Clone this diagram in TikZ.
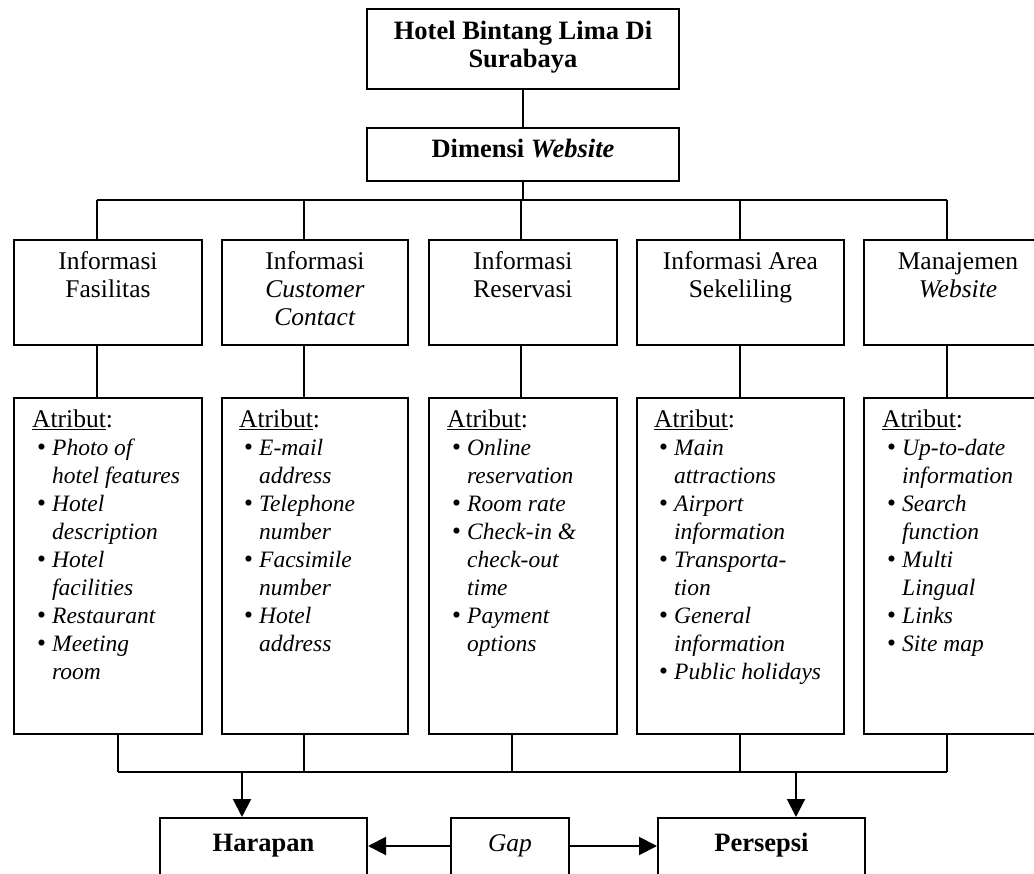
\documentclass[tikz,border=0pt]{standalone}
\usepackage{fontspec}
\setmainfont{Liberation Serif}
\usetikzlibrary{arrows.meta}
\newcommand\lsize{\fontsize{23.5}{28}\selectfont}
\newcommand\bsize{\fontsize{26.5}{28}\selectfont}
\newcommand\lbul[1]{\makebox[20pt][l]{\hspace{5pt}\textbullet}{\lsize\textit{#1}}}
\newcommand\lcont[1]{\hspace*{20pt}{\lsize\textit{#1}}}
\tikzset{
  box/.style={draw, line width=2pt, inner sep=0pt, anchor=north west},
  conn/.style={line width=2pt},
  arr/.style={line width=2pt, -{Triangle[length=18pt,width=18pt]}},
  txt/.style={inner sep=0pt, anchor=base, font=\fontsize{25.5}{28}\selectfont},
  ltxt/.style={txt, anchor=base west},
}
\begin{document}
\begin{tikzpicture}[x=1pt,y=-1pt]
\useasboundingbox (0,0) rectangle (1034,874);
\clip (0,0) rectangle (1034,874);
% boxes
\node[box, minimum width=312pt, minimum height=80pt] (title) at (366,8) {};
\node[box, minimum width=312pt, minimum height=53pt] (dim) at (366,127) {};
\node[box, minimum width=188pt, minimum height=105pt] (ra) at (13,239) {};
\node[box, minimum width=186pt, minimum height=105pt] (rb) at (221,239) {};
\node[box, minimum width=188pt, minimum height=105pt] (rc) at (428,239) {};
\node[box, minimum width=207pt, minimum height=105pt] (rd) at (636,239) {};
\node[box, minimum width=188pt, minimum height=105pt] (re) at (863,239) {};
\node[box, minimum width=188pt, minimum height=336pt] (la) at (13,397) {};
\node[box, minimum width=186pt, minimum height=336pt] (lb) at (221,397) {};
\node[box, minimum width=188pt, minimum height=336pt] (lc) at (428,397) {};
\node[box, minimum width=207pt, minimum height=336pt] (ld) at (636,397) {};
\node[box, minimum width=188pt, minimum height=336pt] (le) at (863,397) {};
\node[box, minimum width=207pt, minimum height=90pt] (har) at (159,817) {};
\node[box, minimum width=118pt, minimum height=90pt] (gap) at (450,817) {};
\node[box, minimum width=207pt, minimum height=90pt] (per) at (657,817) {};
% texts
\node[txt] (titlet) at ([yshift=-32pt]title.north) {\parbox[t]{300pt}{\centering\bsize\bfseries Hotel Bintang Lima Di\\ Surabaya}};
\node[txt] (dimt) at ([yshift=-31pt]dim.north) {\bsize\textbf{Dimensi \textit{Website}}};
\node[txt] (rat) at ([yshift=-31pt]ra.north) {\parbox[t]{180pt}{\centering Informasi\\ Fasilitas}};
\node[txt] (rbt) at ([yshift=-31pt]rb.north) {\parbox[t]{180pt}{\centering Informasi\\ \textit{Customer}\\ \textit{Contact}}};
\node[txt] (rct) at ([yshift=-31pt]rc.north) {\parbox[t]{180pt}{\centering Informasi\\ Reservasi}};
\node[txt] (rdt) at ([yshift=-31pt]rd.north) {\parbox[t]{200pt}{\centering Informasi Area\\ Sekeliling}};
\node[txt] (ret) at ([yshift=-31pt]re.north) {\parbox[t]{180pt}{\centering Manajemen\\ \textit{Website}}};
\node[ltxt] (lat) at ([xshift=19pt,yshift=-31pt]la.north west) {\parbox[t]{180pt}{\underline{Atribut}:\\
  \lbul{Photo of}\\ \lcont{hotel features}\\ \lbul{Hotel}\\ \lcont{description}\\ \lbul{Hotel}\\ \lcont{facilities}\\ \lbul{Restaurant}\\ \lbul{Meeting}\\ \lcont{room}}};
\node[ltxt] (lbt) at ([xshift=18pt,yshift=-31pt]lb.north west) {\parbox[t]{180pt}{\underline{Atribut}:\\
  \lbul{E-mail}\\ \lcont{address}\\ \lbul{Telephone}\\ \lcont{number}\\ \lbul{Facsimile}\\ \lcont{number}\\ \lbul{Hotel}\\ \lcont{address}}};
\node[ltxt] (lct) at ([xshift=19pt,yshift=-31pt]lc.north west) {\parbox[t]{180pt}{\underline{Atribut}:\\
  \lbul{Online}\\ \lcont{reservation}\\ \lbul{Room rate}\\ \lbul{Check-in \&}\\ \lcont{check-out}\\ \lcont{time}\\ \lbul{Payment}\\ \lcont{options}}};
\node[ltxt] (ldt) at ([xshift=18pt,yshift=-31pt]ld.north west) {\parbox[t]{200pt}{\underline{Atribut}:\\
  \lbul{Main}\\ \lcont{attractions}\\ \lbul{Airport}\\ \lcont{information}\\ \lbul{Transporta-}\\ \lcont{tion}\\ \lbul{General}\\ \lcont{information}\\ \lbul{Public holidays}}};
\node[ltxt] (let) at ([xshift=19pt,yshift=-31pt]le.north west) {\parbox[t]{180pt}{\underline{Atribut}:\\
  \lbul{Up-to-date}\\ \lcont{information}\\ \lbul{Search}\\ \lcont{function}\\ \lbul{Multi}\\ \lcont{Lingual}\\ \lbul{Links}\\ \lbul{Site map}}};
\node[txt] (hart) at ([yshift=-34pt]har.north) {\bsize\textbf{Harapan}};
\node[txt] (gapt) at ([yshift=-34pt]gap.north) {\textit{Gap}};
\node[txt] (pert) at ([yshift=-34pt]per.north) {\bsize\textbf{Persepsi}};
% top connectors
\draw[conn] (title.south) -- (dim.north);
\coordinate (t1) at (97,200);
\coordinate (t2) at (304,200);
\coordinate (t3) at (521,200);
\coordinate (t4) at (740,200);
\coordinate (t5) at (947,200);
\draw[conn] (dim.south) -- (dim.south |- t1);
\draw[conn] (t1) -- (t5);
\foreach \t/\a/\b in {t1/ra/la, t2/rb/lb, t3/rc/lc, t4/rd/ld, t5/re/le}{
  \draw[conn] (\t) -- (\t |- \a.north);
  \draw[conn] (\t |- \a.south) -- (\t |- \b.north);
}
% bottom connectors
\coordinate (b1) at (118,772);
\coordinate (b2) at (304,772);
\coordinate (b3) at (512,772);
\coordinate (b4) at (740,772);
\coordinate (b5) at (947,772);
\foreach \c/\n in {b1/la, b2/lb, b3/lc, b4/ld, b5/le}{
  \draw[conn] (\c |- \n.south) -- (\c);
}
\draw[conn] (b1) -- (b5);
\coordinate (ah) at (242,772);
\coordinate (ap) at (796,772);
\draw[arr] (ah) -- (ah |- har.north);
\draw[arr] (ap) -- (ap |- per.north);
\coordinate (gy) at (0,846);
\draw[arr] (gap.west |- gy) -- (har.east |- gy);
\draw[arr] (gap.east |- gy) -- (per.west |- gy);
\end{tikzpicture}
\end{document}
